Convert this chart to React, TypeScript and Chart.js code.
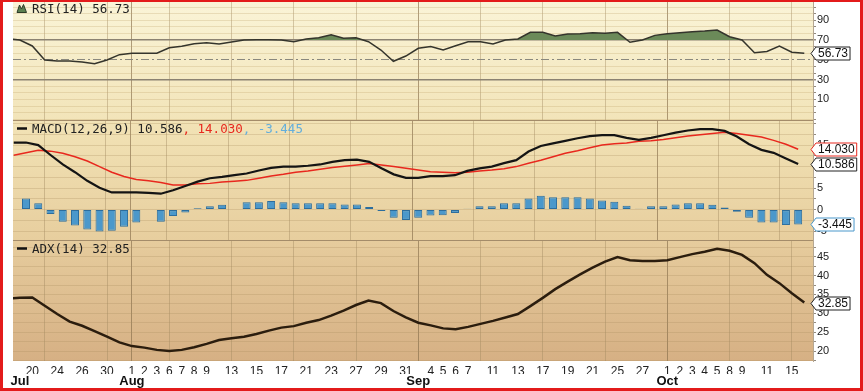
import React, { useEffect, useRef } from 'react';
import { Chart, registerables } from 'chart.js';

Chart.register(...registerables);

// ---------- data ----------
const dates = [
  'Jul 18', 'Jul 19', 'Jul 20', 'Jul 23', 'Jul 24', 'Jul 25', 'Jul 26', 'Jul 27', 'Jul 30', 'Jul 31',
  'Aug 1', 'Aug 2', 'Aug 3', 'Aug 6', 'Aug 7', 'Aug 8', 'Aug 9', 'Aug 10', 'Aug 13', 'Aug 14',
  'Aug 15', 'Aug 16', 'Aug 17', 'Aug 20', 'Aug 21', 'Aug 22', 'Aug 23', 'Aug 24', 'Aug 27', 'Aug 28',
  'Aug 29', 'Aug 30', 'Aug 31', 'Sep 3', 'Sep 4', 'Sep 5', 'Sep 6', 'Sep 7', 'Sep 10', 'Sep 11',
  'Sep 12', 'Sep 13', 'Sep 14', 'Sep 17', 'Sep 18', 'Sep 19', 'Sep 20', 'Sep 21', 'Sep 24', 'Sep 25',
  'Sep 26', 'Sep 27', 'Sep 28', 'Oct 1', 'Oct 2', 'Oct 3', 'Oct 4', 'Oct 5', 'Oct 8', 'Oct 9',
  'Oct 10', 'Oct 11', 'Oct 12', 'Oct 15', 'Oct 16',
];

const rsi = [
  71.3, 70.0, 64.0, 49.8, 48.8, 48.8, 47.8, 46.0, 49.8, 55.2,
  56.6, 56.6, 56.6, 62.2, 63.6, 66.3, 67.3, 66.0, 68.0, 70.0,
  70.3, 70.3, 70.0, 68.3, 71.0, 72.3, 75.4, 71.7, 72.3, 68.3,
  59.9, 48.5, 53.8, 61.6, 63.5, 59.9, 64.2, 68.3, 68.3, 66.0,
  70.0, 71.0, 77.8, 77.8, 74.0, 76.0, 76.3, 77.4, 76.8, 77.8,
  67.7, 70.0, 74.7, 76.3, 77.4, 78.4, 79.1, 80.1, 73.3, 70.0,
  57.2, 58.5, 63.9, 57.6, 56.73,
];

const macd = [
  15.6, 15.6, 15.0, 12.7, 10.5, 8.7, 6.7, 5.1, 4.0, 4.0,
  4.0, 3.9, 3.7, 4.5, 5.5, 6.5, 7.3, 7.6, 8.0, 8.4,
  9.1, 9.7, 10.0, 10.0, 10.2, 10.5, 11.1, 11.5, 11.6, 11.1,
  9.6, 8.2, 7.4, 7.4, 7.8, 7.8, 8.0, 9.0, 9.6, 10.0,
  10.8, 11.5, 13.5, 14.8, 15.4, 16.0, 16.6, 17.1, 17.3, 17.3,
  16.7, 16.2, 16.7, 17.3, 17.9, 18.4, 18.7, 18.7, 18.3, 17.0,
  15.2, 13.9, 13.2, 11.9, 10.586,
];

const signal = [
  12.65, 13.2, 13.8, 13.6, 13.1, 12.3, 11.3, 10.0, 8.7, 7.7,
  7.0, 6.7, 6.3, 5.7, 5.7, 6.0, 6.1, 6.4, 6.6, 6.8,
  7.3, 7.8, 8.2, 8.7, 9.0, 9.4, 9.8, 10.1, 10.4, 10.7,
  10.4, 10.0, 9.6, 9.2, 8.8, 8.7, 8.6, 8.7, 9.0, 9.2,
  9.5, 10.0, 10.8, 11.5, 12.3, 13.1, 13.7, 14.4, 15.0, 15.3,
  15.5, 15.9, 16.0, 16.3, 16.7, 17.1, 17.4, 17.7, 18.0, 17.7,
  17.3, 16.9, 16.1, 15.2, 14.03,
];

const histogram: (number | null)[] = [
  null, 2.6, 1.5, -1.0, -2.8, -3.7, -4.6, -5.1, -4.9, -4.0,
  -3.0, null, -2.8, -1.5, -0.7, 0.3, 0.8, 1.1, null, 1.7,
  1.7, 2.0, 1.7, 1.5, 1.5, 1.5, 1.5, 1.2, 1.2, 0.6,
  -0.3, -1.9, -2.4, -1.9, -1.35, -1.3, -0.8, 0.2, 0.8, 0.8,
  1.5, 1.5, 2.6, 3.2, 2.9, 2.9, 2.9, 2.6, 2.1, 1.8,
  0.9, 0.2, 0.8, 0.8, 1.2, 1.5, 1.5, 1.1, 0.5, -0.5,
  -1.9, -3.0, -3.0, -3.6, -3.445,
];

const adx = [
  33.9, 34.1, 34.2, 32.0, 29.8, 27.8, 26.7, 25.3, 23.8, 22.3,
  21.3, 20.9, 20.3, 20.0, 20.3, 21.0, 21.9, 22.9, 23.4, 23.8,
  24.5, 25.4, 26.2, 26.6, 27.5, 28.2, 29.4, 30.7, 32.2, 33.4,
  32.7, 30.6, 28.9, 27.5, 26.8, 26.0, 25.8, 26.4, 27.2, 28.0,
  28.9, 29.8, 31.9, 34.1, 36.4, 38.4, 40.3, 42.1, 43.7, 44.9,
  44.1, 43.9, 43.9, 44.1, 44.9, 45.7, 46.3, 47.1, 46.6, 45.5,
  43.3, 40.2, 38.0, 35.3, 32.85,
];

const dayTickDates = [
  'Jul 20', 'Jul 24', 'Jul 26', 'Jul 30', 'Aug 1', 'Aug 2', 'Aug 3', 'Aug 6', 'Aug 7', 'Aug 8',
  'Aug 9', 'Aug 13', 'Aug 15', 'Aug 17', 'Aug 21', 'Aug 23', 'Aug 27', 'Aug 29', 'Aug 31', 'Sep 4',
  'Sep 5', 'Sep 6', 'Sep 7', 'Sep 11', 'Sep 13', 'Sep 17', 'Sep 19', 'Sep 21', 'Sep 25', 'Sep 27',
  'Oct 1', 'Oct 2', 'Oct 3', 'Oct 4', 'Oct 5', 'Oct 8', 'Oct 9', 'Oct 11', 'Oct 15',
];
const monthTickDates = ['Jul 19', 'Aug 1', 'Sep 3', 'Oct 1'];
const weekGridDates = [
  'Jul 23', 'Jul 30', 'Aug 6', 'Aug 13', 'Aug 20', 'Aug 27', 'Sep 10', 'Sep 17', 'Sep 24', 'Oct 8', 'Oct 15',
];
const monthGridDates = ['Aug 1', 'Sep 3', 'Oct 1'];

const rsiTickLabels = [10, 30, 50, 70, 90];
const macdTickLabels = [-5, 0, 5, 10, 15];
const adxTickLabels = [20, 25, 30, 35, 40, 45];

// ---------- layout constants ----------
const X_MIN = 0.45;
const X_MAX = 64.7;
const AXIS_FONT = '"Liberation Sans", Arial, sans-serif';
const TITLE_FONT = '12.5px "DejaVu Sans Mono", monospace';

const idx = (d: string) => dates.indexOf(d);
const dayLabelMap = new Map<number, string>(dayTickDates.map((d) => [idx(d), d.split(' ')[1]]));
const monthLabelMap = new Map<number, string>(monthTickDates.map((d) => [idx(d), d.split(' ')[0]]));
const weekGrid = new Set(weekGridDates.map(idx));
const monthGrid = new Set(monthGridDates.map(idx));

const pts = (arr: (number | null)[]) => arr.map((v, i) => ({ x: i, y: v }));
const last = (arr: (number | null)[]) => arr[arr.length - 1] as number;

function xScale(showLabels: boolean) {
  return {
    type: 'linear',
    position: 'bottom',
    min: X_MIN,
    max: X_MAX,
    weight: 0,
    afterBuildTicks: (s: any) => {
      s.ticks = dates.map((_, i) => ({ value: i })).filter((t) => t.value >= X_MIN && t.value <= X_MAX);
    },
    afterFit: (s: any) => {
      s.height = showLabels ? 13 : 0;
      s.paddingLeft = 0;
      s.paddingRight = 0;
    },
    grid: {
      drawTicks: false,
      lineWidth: 1,
      color: (c: any) => {
        const v = c.tick?.value;
        if (monthGrid.has(v)) return 'rgba(135,110,75,0.65)';
        if (weekGrid.has(v)) return 'rgba(160,135,95,0.42)';
        return 'rgba(0,0,0,0)';
      },
    },
    border: { display: false },
    ticks: {
      display: showLabels,
      autoSkip: false,
      maxRotation: 0,
      minRotation: 0,
      padding: 3,
      color: '#222',
      font: { family: AXIS_FONT, size: 12 },
      callback: (v: number) => dayLabelMap.get(v) ?? '',
    },
  };
}

function yScale(min: number, max: number, grid: number[], labels: number[], extra: any = {}) {
  return {
    type: 'linear',
    position: 'right',
    min,
    max,
    afterBuildTicks: (s: any) => {
      s.ticks = grid.map((v) => ({ value: v }));
    },
    afterFit: (s: any) => {
      s.width = 50;
      s.paddingTop = 0;
      s.paddingBottom = 0;
    },
    grid: {
      color: extra.gridColor ?? 'rgba(170,140,95,0.28)',
      lineWidth: extra.gridWidth ?? 1,
      tickColor: 'rgba(120,110,95,0.8)',
      tickLength: 3,
    },
    border: {
      display: true,
      color: 'rgba(150,130,100,0.7)',
      dash: extra.dash ?? [],
    },
    ticks: {
      autoSkip: false,
      padding: 1,
      color: '#222',
      font: { family: AXIS_FONT, size: 11 },
      callback: (v: number) => (labels.includes(v) ? String(v) : ''),
    },
  };
}

function drawTag(ctx: CanvasRenderingContext2D, x: number, y: number, text: string, stroke: string) {
  ctx.save();
  ctx.font = `12px ${AXIS_FONT}`;
  const w = ctx.measureText(text).width;
  const h = 13;
  const tip = 5;
  const yy = Math.round(y) + 0.5;
  ctx.beginPath();
  ctx.moveTo(x, yy);
  ctx.lineTo(x + tip, yy - h / 2);
  ctx.lineTo(x + tip + w + 4, yy - h / 2);
  ctx.lineTo(x + tip + w + 4, yy + h / 2);
  ctx.lineTo(x + tip, yy + h / 2);
  ctx.closePath();
  ctx.fillStyle = '#fff';
  ctx.fill();
  ctx.lineWidth = 1;
  ctx.strokeStyle = stroke;
  ctx.stroke();
  ctx.fillStyle = '#111';
  ctx.textBaseline = 'middle';
  ctx.textAlign = 'left';
  ctx.fillText(text, x + tip + 2, yy + 0.5);
  ctx.restore();
}

function panelPlugin(bg: [string, string], separator: boolean, draw: (chart: any) => void) {
  return {
    id: 'panelDecor',
    beforeDraw(chart: any) {
      const { ctx, chartArea: a } = chart;
      const g = ctx.createLinearGradient(0, a.top, 0, a.bottom);
      g.addColorStop(0, bg[0]);
      g.addColorStop(1, bg[1]);
      ctx.save();
      ctx.fillStyle = g;
      ctx.fillRect(a.left, a.top, a.right - a.left, a.bottom - a.top);
      ctx.restore();
    },
    afterDraw(chart: any) {
      const { ctx, chartArea: a } = chart;
      if (separator) {
        ctx.save();
        ctx.strokeStyle = '#a48c6a';
        ctx.lineWidth = 1;
        ctx.beginPath();
        ctx.moveTo(a.left, a.top + 0.5);
        ctx.lineTo(a.right, a.top + 0.5);
        ctx.stroke();
        ctx.restore();
      }
      draw(chart);
    },
  };
}

function legendDash(ctx: CanvasRenderingContext2D, y: number) {
  ctx.save();
  ctx.strokeStyle = '#111';
  ctx.lineWidth = 2.5;
  ctx.beginPath();
  ctx.moveTo(17, y);
  ctx.lineTo(27, y);
  ctx.stroke();
  ctx.restore();
}

function titleParts(ctx: CanvasRenderingContext2D, x: number, y: number, parts: [string, string][]) {
  ctx.save();
  ctx.font = TITLE_FONT;
  ctx.textBaseline = 'alphabetic';
  ctx.textAlign = 'left';
  let cx = x;
  for (const [text, color] of parts) {
    ctx.fillStyle = color;
    ctx.fillText(text, cx, y);
    cx += ctx.measureText(text).width;
  }
  ctx.restore();
}

const baseOptions = (padTop: number) => ({
  responsive: false,
  animation: false,
  events: [],
  layout: { padding: { left: 13, top: padTop, right: 0, bottom: 0 } },
  plugins: { legend: { display: false }, tooltip: { enabled: false } },
});

function rsiConfig(): any {
  const grid: number[] = [];
  for (let j = -9; j <= 8; j++) grid.push(50 + (j * 20) / 3);
  return {
    type: 'line',
    data: {
      datasets: [
        {
          data: pts(rsi),
          borderColor: '#34342c',
          borderWidth: 1.5,
          pointRadius: 0,
          tension: 0,
          clip: 0,
          fill: { value: 70, above: '#6b8a59', below: 'rgba(0,0,0,0)' },
        },
      ],
    },
    options: {
      ...baseOptions(2),
      scales: {
        x: xScale(false),
        y: yScale(-10.8, 108.4, grid, rsiTickLabels, {
          gridColor: (c: any) => {
            const v = c.tick?.value;
            if (v === 30 || v === 70) return '#8b8272';
            if (v === 50) return '#8a887e';
            return 'rgba(190,160,105,0.28)';
          },
          gridWidth: (c: any) => {
            const v = c.tick?.value;
            return v === 30 || v === 70 ? 1.5 : 1;
          },
          dash: (c: any) => (c.tick?.value === 50 ? [8, 3, 2, 3] : []),
        }),
      },
    },
    plugins: [
      panelPlugin(['#faf4d7', '#f2e4b9'], false, (chart) => {
        const { ctx, chartArea: a, scales } = chart;
        ctx.save();
        ctx.beginPath();
        ctx.moveTo(17, 12.5);
        ctx.lineTo(19.5, 5);
        ctx.lineTo(21.5, 9);
        ctx.lineTo(23.5, 4.5);
        ctx.lineTo(26.5, 12.5);
        ctx.closePath();
        ctx.fillStyle = '#5b8050';
        ctx.fill();
        ctx.strokeStyle = '#2c3a28';
        ctx.lineWidth = 1;
        ctx.stroke();
        ctx.restore();
        titleParts(ctx, 32, 13, [[`RSI(14) ${last(rsi).toFixed(2)}`, '#222']]);
        drawTag(ctx, a.right - 2, scales.y.getPixelForValue(last(rsi)), last(rsi).toFixed(2), '#222');
      }),
    ],
  };
}

function macdConfig(): any {
  const grid: number[] = [];
  for (let j = -2; j <= 8; j++) grid.push(j * 2.5);
  return {
    type: 'line',
    data: {
      datasets: [
        { data: pts(macd), borderColor: '#141414', borderWidth: 2.2, pointRadius: 0, tension: 0, clip: 0 },
        { data: pts(signal), borderColor: '#e8281e', borderWidth: 1.5, pointRadius: 0, tension: 0, clip: 0 },
        {
          type: 'bar',
          data: pts(histogram),
          backgroundColor: '#4b98cb',
          borderColor: '#2c6d9d',
          borderWidth: 1,
          borderSkipped: false,
          grouped: false,
          maxBarThickness: 8,
          clip: 0,
        },
      ],
    },
    options: {
      ...baseOptions(0),
      scales: {
        x: xScale(false),
        y: yScale(-7.07, 20.84, grid, macdTickLabels),
      },
    },
    plugins: [
      panelPlugin(['#f2e3b6', '#e7ce9e'], true, (chart) => {
        const { ctx, chartArea: a, scales } = chart;
        legendDash(ctx, 8.5);
        titleParts(ctx, 32, 13, [
          [`MACD(12,26,9) ${last(macd).toFixed(3)}`, '#222'],
          [`, ${last(signal).toFixed(3)}`, '#e8281e'],
          [`, ${last(histogram).toFixed(3)}`, '#64aedb'],
        ]);
        drawTag(ctx, a.right - 2, scales.y.getPixelForValue(last(signal)), last(signal).toFixed(3), '#e8281e');
        drawTag(ctx, a.right - 2, scales.y.getPixelForValue(last(macd)), last(macd).toFixed(3), '#222');
        drawTag(ctx, a.right - 2, scales.y.getPixelForValue(last(histogram)), last(histogram).toFixed(3), '#4b98cb');
      }),
    ],
  };
}

function adxConfig(): any {
  const grid: number[] = [];
  for (let j = 7; j <= 19; j++) grid.push(j * 2.5);
  return {
    type: 'line',
    data: {
      datasets: [
        { data: pts(adx), borderColor: '#2b1d0e', borderWidth: 2.5, pointRadius: 0, tension: 0, clip: 0 },
      ],
    },
    options: {
      ...baseOptions(0),
      scales: {
        x: xScale(true),
        x2: {
          type: 'linear',
          position: 'bottom',
          min: X_MIN,
          max: X_MAX,
          weight: 1,
          afterBuildTicks: (s: any) => {
            s.ticks = monthTickDates.map((d) => ({ value: idx(d) }));
          },
          afterFit: (s: any) => {
            s.height = 17;
            s.paddingLeft = 0;
            s.paddingRight = 0;
          },
          grid: { display: false, drawTicks: false },
          border: { display: false },
          ticks: {
            autoSkip: false,
            maxRotation: 0,
            minRotation: 0,
            padding: 0,
            color: '#111',
            font: { family: AXIS_FONT, size: 13, weight: 'bold' },
            callback: (v: number) => monthLabelMap.get(v) ?? '',
          },
        },
        y: yScale(17.35, 49.44, grid, adxTickLabels),
      },
    },
    plugins: [
      panelPlugin(['#e6cc9d', '#d6b084'], true, (chart) => {
        const { ctx, chartArea: a, scales } = chart;
        legendDash(ctx, 8.5);
        titleParts(ctx, 32, 13, [[`ADX(14) ${last(adx).toFixed(2)}`, '#222']]);
        drawTag(ctx, a.right - 2, scales.y.getPixelForValue(last(adx)), last(adx).toFixed(2), '#222');
      }),
    ],
  };
}

export default function App() {
  const r1 = useRef<HTMLCanvasElement>(null);
  const r2 = useRef<HTMLCanvasElement>(null);
  const r3 = useRef<HTMLCanvasElement>(null);

  useEffect(() => {
    const c1 = new Chart(r1.current as HTMLCanvasElement, rsiConfig());
    const c2 = new Chart(r2.current as HTMLCanvasElement, macdConfig());
    const c3 = new Chart(r3.current as HTMLCanvasElement, adxConfig());
    return () => {
      c1.destroy();
      c2.destroy();
      c3.destroy();
    };
  }, []);

  return (
    <div style={{ position: 'fixed', left: 0, top: 0, width: 863, height: 391, background: '#fff', overflow: 'hidden' }}>
      <canvas ref={r1} width={863} height={120} style={{ position: 'absolute', left: 0, top: 0 }} />
      <canvas ref={r2} width={863} height={120} style={{ position: 'absolute', left: 0, top: 120 }} />
      <canvas ref={r3} width={863} height={151} style={{ position: 'absolute', left: 0, top: 240 }} />
      <div
        style={{
          position: 'absolute',
          left: 0,
          top: 0,
          width: 863,
          height: 391,
          boxSizing: 'border-box',
          borderStyle: 'solid',
          borderColor: '#e31b1b',
          borderWidth: '2px 3px 3px 3px',
          pointerEvents: 'none',
        }}
      />
    </div>
  );
}
